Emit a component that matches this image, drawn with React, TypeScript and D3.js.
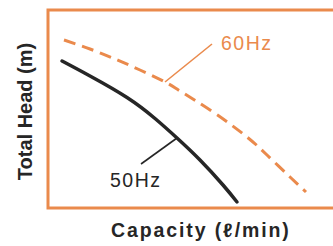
import * as d3 from "d3";

// pump performance curves (unitless)
const hz50 = [
  [1.4, 14.7], [4.2, 13.2], [7.9, 11.05], [10.7, 8.95], [12.9, 7.0],
  [15.2, 4.8], [17.5, 2.3], [18.9, 0.6],
];
const hz60 = [
  [1.6, 16.8], [4.2, 15.9], [6.7, 14.9], [9.2, 13.8], [11.7, 12.6],
  [13.2, 11.7], [16.5, 9.6], [19.9, 7.1], [21.9, 5.3], [24.2, 3.1], [25.8, 1.6],
];
const labels = { hz50: "50Hz", hz60: "60Hz" };
const xTitle = "Capacity (ℓ/min)";
const yTitle = "Total Head (m)";

const W = 333;
const H = 246;
const orange = "#EA8A4C";
const ink = "#262626";
const margin = { top: 10, right: -5, bottom: 38, left: 48 };

export default function App() {
  const x = d3.scaleLinear().domain([0, 29]).range([margin.left, W - margin.right]);
  const y = d3.scaleLinear().domain([0, 19.8]).range([H - margin.bottom, margin.top]);

  const line = d3
    .line<number[]>()
    .x((d) => x(d[0]))
    .y((d) => y(d[1]))
    .curve(d3.curveNatural);

  // leader line anchors, at points of each curve
  const a60 = hz60[4];
  const a50 = hz50[4];

  return (
    <svg
      width={W}
      height={H}
      style={{ position: "absolute", left: 0, top: 0, background: "#fff" }}
      fontFamily="'Liberation Sans', Arial, sans-serif"
    >
      <rect
        x={x(0)}
        y={y(19.8)}
        width={x(29) - x(0)}
        height={y(0) - y(19.8)}
        fill="none"
        stroke={orange}
        strokeWidth={3}
      />
      <path d={line(hz60) ?? ""} fill="none" stroke={orange} strokeWidth={3} strokeDasharray="12,7" />
      <path d={line(hz50) ?? ""} fill="none" stroke={ink} strokeWidth={3.5} strokeLinecap="round" />

      <line x1={x(a60[0])} y1={y(a60[1])} x2={x(a60[0]) + 47} y2={y(a60[1]) - 38} stroke={orange} strokeWidth={1.6} />
      <text x={x(a60[0]) + 56} y={y(a60[1]) - 32} fontSize={19.5} letterSpacing={1.5} fill={orange}>
        {labels.hz60}
      </text>

      <line x1={x(a50[0])} y1={y(a50[1])} x2={x(a50[0]) - 36} y2={y(a50[1]) + 26} stroke={ink} strokeWidth={1.6} />
      <text x={x(a50[0]) - 67} y={y(a50[1]) + 49} fontSize={19.5} letterSpacing={1.5} fill={ink}>
        {labels.hz50}
      </text>

      <text x={111} y={237} fontSize={19.5} fontWeight="bold" letterSpacing={1.9} fill={ink}>
        {xTitle}
      </text>
      <text
        transform={`translate(32, 111.5) rotate(-90)`}
        textAnchor="middle"
        fontSize={20}
        fontWeight="bold"
        fill={ink}
      >
        {yTitle}
      </text>
    </svg>
  );
}
